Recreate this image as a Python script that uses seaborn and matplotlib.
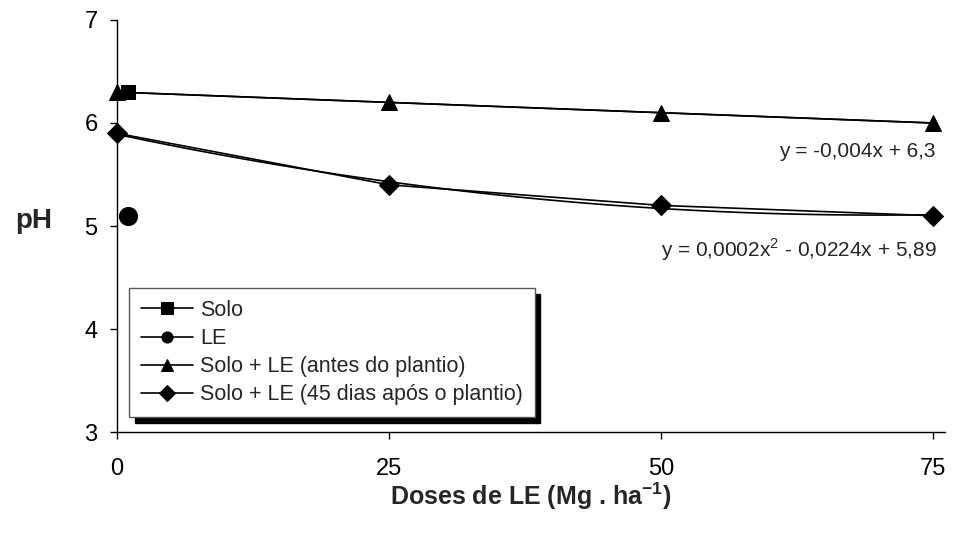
import pandas as pd
import matplotlib.pyplot as plt
import seaborn as sns

sns.set_style('ticks')
plt.rcParams['font.family'] = ['Liberation Sans', 'DejaVu Sans']
plt.rcParams['mathtext.fontset'] = 'custom'
plt.rcParams['mathtext.rm'] = 'Liberation Sans'
plt.rcParams['mathtext.bf'] = 'Liberation Sans:bold'

# Values
doses = [0, 25, 50, 75]
solo_dose = [1]
solo_ph = [6.3]
le_dose = [1]
le_ph = [5.1]
antes_ph = [6.3, 6.2, 6.1, 6.0]
dias45_ph = [5.9, 5.4, 5.2, 5.1]
yticks = [3, 4, 5, 6, 7]
labels = ['Solo', 'LE', 'Solo + LE (antes do plantio)', 'Solo + LE (45 dias após o plantio)']
eq_antes = 'y = -0,004x + 6,3'
eq_45dias = 'y = 0,0002x$^{2}$ - 0,0224x + 5,89'

fig, ax = plt.subplots(figsize=(9.55, 5.36), dpi=100)
fig.subplots_adjust(left=0.1225, right=0.9895, top=0.9627, bottom=0.194)

# Trend lines (Excel style)
trend_kw = dict(color='black', lw=1.2)
sns.regplot(x=doses, y=antes_ph, order=1, scatter=False, ci=None, truncate=True, line_kws=trend_kw, ax=ax)
sns.regplot(x=doses, y=dias45_ph, order=2, scatter=False, ci=None, truncate=True, line_kws=trend_kw, ax=ax)

# Series
line_kw = dict(color='black', lw=1.2, clip_on=False, markeredgecolor='black', zorder=5)
sns.lineplot(x=solo_dose, y=solo_ph, marker='s', markersize=10, label=labels[0], ax=ax, **line_kw)
sns.lineplot(x=le_dose, y=le_ph, marker='o', markersize=13, label=labels[1], ax=ax, **line_kw)
sns.lineplot(x=doses, y=antes_ph, marker='^', markersize=12, label=labels[2], ax=ax, **line_kw)
sns.lineplot(x=doses, y=dias45_ph, marker='D', markersize=10, label=labels[3], ax=ax, **line_kw)

ax.set_xlim(0, 76.1)
ax.set_ylim(3, 7)
ax.set_xticks(doses)
ax.set_yticks(yticks)
ax.tick_params(direction='out', length=5, width=1, colors='black', labelsize=17)
ax.tick_params(axis='x', pad=14)
ax.tick_params(axis='y', pad=9)
sns.despine(ax=ax)
for s in ['left', 'bottom']:
    ax.spines[s].set_color('black')
    ax.spines[s].set_linewidth(1)

ax.set_xlabel(r'Doses de LE (Mg . ha$^{\mathbf{-1}}$)', fontsize=18, fontweight='bold', labelpad=0)
ax.set_ylabel('pH', fontsize=20, fontweight='bold', rotation=0, ha='center', va='center')
ax.yaxis.set_label_coords(-0.101, 0.512)

ax.text(75.2, 5.72, eq_antes, ha='right', va='center', fontsize=15)
ax.text(75.3, 4.77, eq_45dias, ha='right', va='center', fontsize=15)

leg = ax.legend(loc='lower left', bbox_to_anchor=(0.0145, 0.036), borderaxespad=0,
                fontsize=15.5, handlelength=2.4, labelspacing=0.33, handletextpad=0.35,
                borderpad=0.55, fancybox=False, edgecolor='#555555', framealpha=1,
                shadow={'ox': 4, 'oy': -4, 'facecolor': 'black', 'edgecolor': 'black', 'alpha': 1})
leg.get_frame().set_linewidth(1)
for h in leg.get_lines():
    h.set_markersize(8)

fig.savefig('out.png', dpi=100)
